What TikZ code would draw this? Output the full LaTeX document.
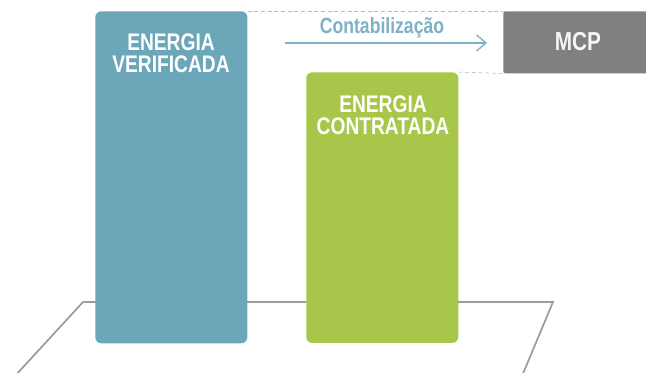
\documentclass[tikz,border=0pt]{standalone}
\usepackage{fontspec}
\setmainfont{Liberation Sans}
\newfontfamily\narrowfont[FakeStretch=0.8]{Liberation Sans}
\usepackage{xcolor}
\usetikzlibrary{arrows.meta}
\usetikzlibrary{positioning}
\definecolor{verifblue}{HTML}{6CA6B9}
\definecolor{contrgreen}{HTML}{A8C64A}
\definecolor{mcpgray}{HTML}{808080}
\definecolor{contabblue}{HTML}{7DB1C5}
\definecolor{platgray}{HTML}{9C9C9C}
\begin{document}
\begin{tikzpicture}[x=0.75pt,y=-0.75pt,
	bar/.style={rounded corners=4.5pt,inner sep=0pt,anchor=north west},
	barlabel/.style={text=white,font=\narrowfont\bfseries\fontsize{18}{16.5}\selectfont,align=center,inner sep=0pt}]
	\useasboundingbox (0,0) rectangle (646,373);
	% platform
	\draw[platgray,line width=1.3pt] (15,376) -- (83,302) -- (553,302) -- (522,376);
	% bars
	\node[bar,fill=verifblue,minimum width=114pt,minimum height=249pt] (verificada) at (95,11) {};
	\node[bar,fill=contrgreen,minimum width=114pt,minimum height=203pt] (contratada) at (306,72) {};
	\node[bar,fill=mcpgray,rounded corners=1.5pt,minimum width=114pt,minimum height=46.5pt] (mcp) at (503,11) {};
	\draw[gray!55,densely dashed,line width=0.4pt] (verificada.north east) -- (mcp.north west);
	\draw[gray!55,densely dashed,line width=0.4pt] (contratada.north east) -- (mcp.south west);
	\node[barlabel] (verificadaText) at (171,53) {ENERGIA\\VERIFICADA};
	\node[barlabel] (contratadaText) at (383,115) {ENERGIA\\CONTRATADA};
	\node[barlabel,font=\narrowfont\bfseries\fontsize{19.5}{19.5}\selectfont,text=white!92!gray] (mcpText) at (578,42) {MCP};
	% Contabilizacao
	\coordinate (contabStart) at (285,43);
	\coordinate (contabEnd) at (487,43);
	\draw[contabblue,line width=1pt,-{Straight Barb[length=7pt,width=12pt]}] (contabStart) -- (contabEnd);
	\node[text=contabblue,font=\narrowfont\bfseries\fontsize{16.5}{16.5}\selectfont,inner sep=0pt] (contabText) at (382,28) {Contabilização};
\end{tikzpicture}
\end{document}
